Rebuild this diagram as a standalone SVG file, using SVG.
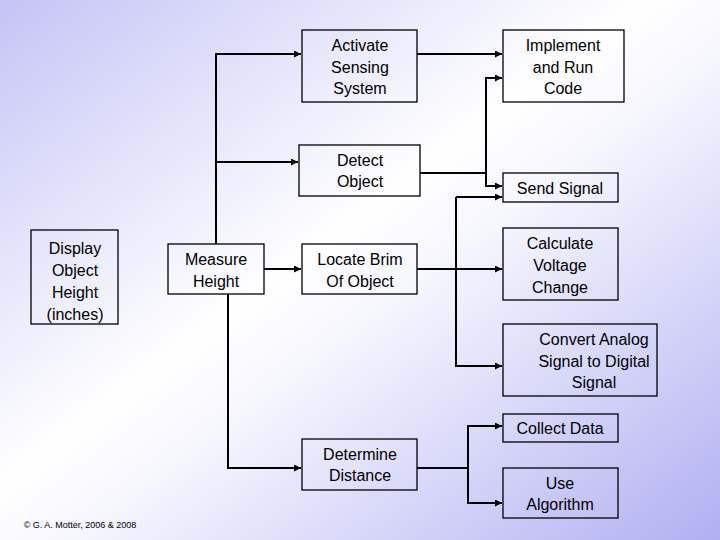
<svg xmlns="http://www.w3.org/2000/svg" width="720" height="540" viewBox="0 0 720 540">
<defs>
<linearGradient id="bg" x1="0" y1="0" x2="1" y2="1">
<stop offset="0" stop-color="#c4c4f6"/><stop offset="0.45" stop-color="#ffffff"/><stop offset="0.55" stop-color="#f6f6fe"/><stop offset="1" stop-color="#b0b0f2"/>
</linearGradient>
<marker id="a" viewBox="0 0 10 10" refX="10" refY="5" markerWidth="3.5" markerHeight="3.5" orient="auto"><path d="M0,0L10,5L0,10z" fill="#000"/></marker>
<style>
rect.n{fill:none;stroke:#000;stroke-width:1.3}
text{font-family:"Liberation Sans",Arial,sans-serif;font-size:16px;text-anchor:middle;fill:#000}
.c path{fill:none;stroke:#000;stroke-width:2}
.c path.t{stroke-width:1.5;shape-rendering:crispEdges}
</style>
</defs>
<rect width="720" height="540" fill="url(#bg)"/>
<g id="display"><rect class="n" x="31" y="230" width="87" height="94"/><text x="75" y="254">Display</text><text x="75" y="276">Object</text><text x="75" y="298">Height</text><text x="75" y="320">(inches)</text></g>
<g id="measure"><rect class="n" x="168" y="244" width="96" height="50"/><text x="216" y="265">Measure</text><text x="216" y="287">Height</text></g>
<g id="activate"><rect class="n" x="302" y="30" width="115" height="72"/><text x="360" y="51">Activate</text><text x="360" y="73">Sensing</text><text x="360" y="94">System</text></g>
<g id="detect"><rect class="n" x="299" y="145" width="121" height="51"/><text x="360" y="166">Detect</text><text x="360" y="187">Object</text></g>
<g id="locate"><rect class="n" x="302" y="244" width="115" height="50"/><text x="360" y="265">Locate Brim</text><text x="360" y="287">Of Object</text></g>
<g id="determine"><rect class="n" x="302" y="439" width="115" height="51"/><text x="360" y="460">Determine</text><text x="360" y="481">Distance</text></g>
<g id="implement"><rect class="n" x="503" y="30" width="121" height="72"/><text x="563" y="51">Implement</text><text x="563" y="73">and Run</text><text x="563" y="94">Code</text></g>
<g id="send"><rect class="n" x="503" y="173" width="115" height="29"/><text x="560" y="194">Send Signal</text></g>
<g id="calculate"><rect class="n" x="503" y="228" width="115" height="72"/><text x="560" y="249">Calculate</text><text x="560" y="271">Voltage</text><text x="560" y="293">Change</text></g>
<g id="convert"><rect class="n" x="503" y="324" width="154" height="72"/><text x="594" y="345">Convert Analog</text><text x="594" y="367">Signal to Digital</text><text x="594" y="388">Signal</text></g>
<g id="collect"><rect class="n" x="503" y="414" width="115" height="28"/><text x="560" y="434">Collect Data</text></g>
<g id="algorithm"><rect class="n" x="503" y="468" width="115" height="50"/><text x="560" y="489">Use</text><text x="560" y="510">Algorithm</text></g>
<g class="c" id="connectors">
<path d="M216,244V54H301" marker-end="url(#a)"/>
<path d="M216,162H298" marker-end="url(#a)"/>
<path d="M417,54H502" marker-end="url(#a)"/>
<path class="t" d="M420,173H486"/>
<path d="M486,186V78H502" marker-end="url(#a)"/>
<path d="M486,173V186H502" marker-end="url(#a)"/>
<path d="M264,269H301" marker-end="url(#a)"/>
<path d="M417,269H502" marker-end="url(#a)"/>
<path d="M456,197H502" marker-end="url(#a)"/>
<path d="M456,197V366H502" marker-end="url(#a)"/>
<path d="M228,294V468H301" marker-end="url(#a)"/>
<path class="t" d="M417,468H468"/>
<path d="M468,468V426H502" marker-end="url(#a)"/>
<path d="M468,468V503H502" marker-end="url(#a)"/>
</g>
<text x="80" y="528" style="font-size:9px">© G. A. Motter, 2006 &amp; 2008</text>
</svg>
